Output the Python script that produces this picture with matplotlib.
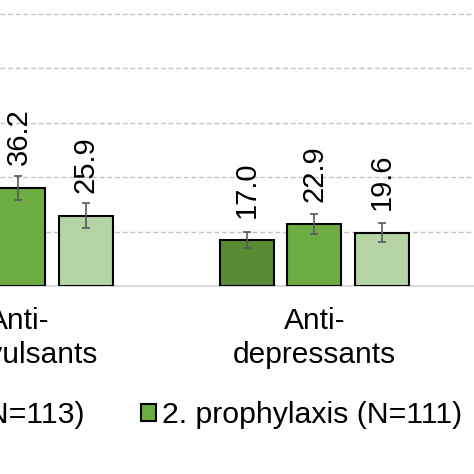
import numpy as np
import matplotlib.pyplot as plt

plt.rcParams['font.family'] = ['Liberation Sans', 'DejaVu Sans']

# data (left-most bar of the first group is cropped away)
groups = ['Anti-\nconvulsants', 'Anti-\ndepressants']
series = ['1. prophylaxis (N=113)', '2. prophylaxis (N=111)', '3. prophylaxis (N=104)']
values = [[40.0, 17.0], [36.2, 22.9], [25.9, 19.6]]
errors = [[4.5, 2.9], [4.4, 3.6], [4.5, 3.6]]
colors = ['#578C35', '#6CAC43', '#B5D4A5']

fig = plt.figure(figsize=(4.74, 4.74), dpi=100)
ax = fig.add_axes([0, 0.3966, 1, 0.6025])

x = np.arange(len(groups))
step = 0.228
width = 0.1824
handles = []
for i, name in enumerate(series):
    pos = x + (i - 1) * step
    bars = ax.bar(pos, values[i], width, color=colors[i], edgecolor='black',
                  linewidth=1.5, label=name, zorder=3)
    ax.errorbar(pos, values[i], yerr=errors[i], fmt='none', ecolor='#595959',
                elinewidth=1.2, capsize=3.2, capthick=1.2, zorder=4)
    ax.bar_label(bars, fmt='%.1f', rotation=90, padding=16, fontsize=21)
    handles.append(bars)

ax.set_xlim(-0.0625, 1.539)
ax.set_ylim(0, 105)
ax.set_yticks([20, 40, 60, 80, 100])
ax.yaxis.grid(True, linestyle=(0, (3.5, 2)), color='#C4C4C4', linewidth=1.0, zorder=0)
ax.set_xticks(x)
ax.set_xticklabels(groups, fontsize=21.5, linespacing=1.3)
ax.tick_params(axis='x', length=0, pad=15)
ax.tick_params(axis='y', length=0, labelleft=False)
for s in ['top', 'left', 'right']:
    ax.spines[s].set_visible(False)
ax.spines['bottom'].set_color('#D9D9D9')
ax.spines['bottom'].set_linewidth(1.5)

fig.legend(handles=handles, loc='center', bbox_to_anchor=(302.5 / 474, 1 - 415 / 474),
           ncol=3, frameon=False, fontsize=21.8, handlelength=0.5, handleheight=0.5,
           handletextpad=0.2, columnspacing=1.85, borderpad=0)

fig.savefig('out.png', dpi=100)
